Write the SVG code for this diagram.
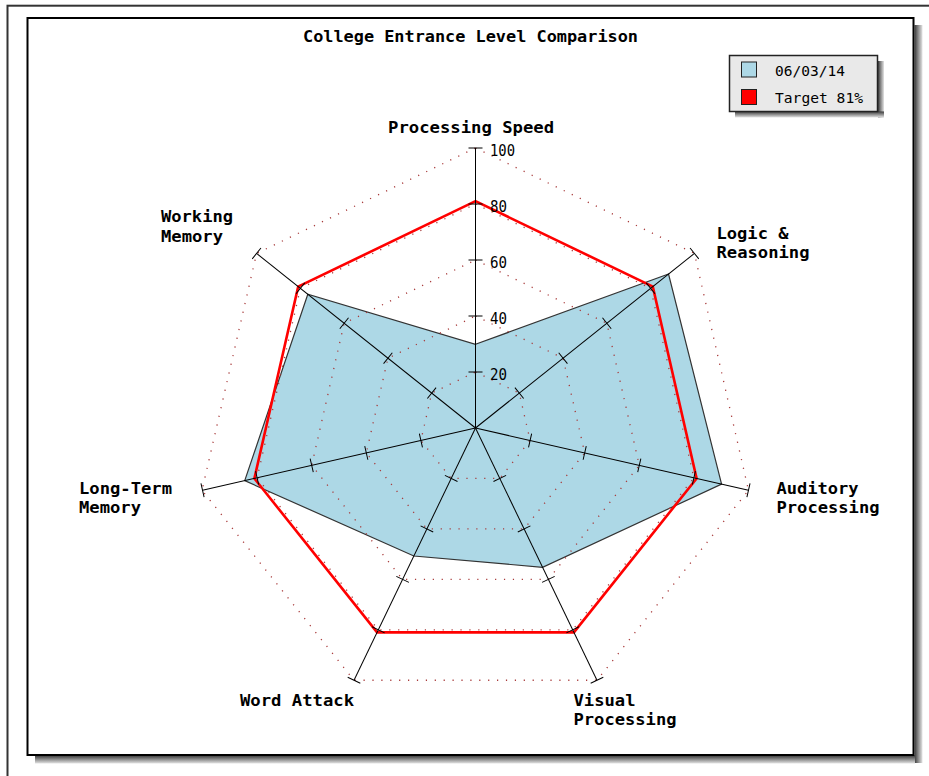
<svg xmlns="http://www.w3.org/2000/svg" xmlns:xlink="http://www.w3.org/1999/xlink" width="929" height="776" viewBox="0 0 929 776">
<defs>
<style>
.lbl{font-family:"DejaVu Sans Mono","Liberation Mono",monospace;font-weight:bold;font-size:16px;fill:#000}
.num{font-family:"DejaVu Sans Mono","Liberation Mono",monospace;font-size:16px;fill:#000}
.leg{font-family:"DejaVu Sans Mono","Liberation Mono",monospace;font-size:14.5px;fill:#000}
.grid{fill:none;stroke:#a83a3a;stroke-width:1.3;stroke-dasharray:1.2 7.7}
.axis line,.axis path{stroke:#000;stroke-width:1;fill:none}
</style>
<linearGradient id="shR" x1="0" y1="0" x2="1" y2="0">
<stop offset="0" stop-color="#3a3a3a"/><stop offset="1" stop-color="#e4e4e4"/>
</linearGradient>
<linearGradient id="shB" x1="0" y1="0" x2="0" y2="1">
<stop offset="0" stop-color="#3a3a3a"/><stop offset="1" stop-color="#e4e4e4"/>
</linearGradient>
<g id="ax" class="axis">
<line x1="0" y1="0" x2="0" y2="-280"/>
<path d="M-7 -56h14M-7 -112h14M-7 -168h14M-7 -224h14M-7 -280h14"/>
</g>
</defs>
<rect x="0" y="0" width="929" height="776" fill="#fff"/>
<g id="outer-frame">
<rect x="7.5" y="5.7" width="1000" height="1000" fill="none" stroke="#333" stroke-width="2"/>
</g>
<g id="panel">
<rect x="914.5" y="25" width="8" height="738" fill="url(#shR)"/>
<rect x="35" y="755.5" width="880" height="8" fill="url(#shB)"/>
<rect x="27.5" y="18" width="886" height="737" fill="#fff" stroke="#000" stroke-width="2"/>
</g>
<g id="title">
<text class="lbl" x="303" y="42" textLength="335" lengthAdjust="spacingAndGlyphs">College Entrance Level Comparison</text>
</g>
<g id="series-0603">
<polygon points="475.5,344.3 668.54,274.06 721.57,484.16 542.58,567.29 413.84,556.03 244.73,480.67 307.8,294.26" fill="#add8e6" stroke="#333" stroke-width="1.2"/>
</g>
<g id="series-target">
<polygon points="475.5,201.2 652.82,286.59 696.61,478.47 573.9,632.34 377.1,632.34 254.39,478.47 298.18,286.59" fill="none" stroke="#ff0000" stroke-width="2.6" stroke-linejoin="miter"/>
</g>
<g id="grid">
<polygon class="grid" points="475.5,372 519.28,393.08 530.1,440.46 499.8,478.45 451.2,478.45 420.9,440.46 431.72,393.08"/>
<polygon class="grid" points="475.5,316 563.07,358.17 584.69,452.92 524.1,528.91 426.9,528.91 366.31,452.92 387.93,358.17"/>
<polygon class="grid" points="475.5,260 606.85,323.25 639.29,465.38 548.39,579.36 402.61,579.36 311.71,465.38 344.15,323.25"/>
<polygon class="grid" points="475.5,204 650.63,288.34 693.88,477.84 572.69,629.82 378.31,629.82 257.12,477.84 300.37,288.34"/>
<polygon class="grid" points="475.5,148 694.41,253.42 748.48,490.31 596.99,680.27 354.01,680.27 202.02,490.31 256.59,253.42"/>
</g>
<g id="axes">
<use xlink:href="#ax" transform="translate(475.5 428)"/>
<use xlink:href="#ax" transform="translate(475.5 428) rotate(51.4286)"/>
<use xlink:href="#ax" transform="translate(475.5 428) rotate(102.8571)"/>
<use xlink:href="#ax" transform="translate(475.5 428) rotate(154.2857)"/>
<use xlink:href="#ax" transform="translate(475.5 428) rotate(205.7143)"/>
<use xlink:href="#ax" transform="translate(475.5 428) rotate(257.1429)"/>
<use xlink:href="#ax" transform="translate(475.5 428) rotate(308.5714)"/>
</g>
<g id="scale-labels">
<text class="num" x="490" y="155.5" textLength="25" lengthAdjust="spacingAndGlyphs">100</text>
<text class="num" x="490" y="211.5" textLength="17" lengthAdjust="spacingAndGlyphs">80</text>
<text class="num" x="490" y="267.5" textLength="17" lengthAdjust="spacingAndGlyphs">60</text>
<text class="num" x="490" y="323.5" textLength="17" lengthAdjust="spacingAndGlyphs">40</text>
<text class="num" x="490" y="379.5" textLength="17" lengthAdjust="spacingAndGlyphs">20</text>
</g>
<g id="label-processing-speed">
<text class="lbl" x="388" y="133.3" textLength="166" lengthAdjust="spacingAndGlyphs">Processing Speed</text>
</g>
<g id="label-logic">
<text class="lbl" x="716.5" y="238.5" textLength="72" lengthAdjust="spacingAndGlyphs">Logic &amp;</text>
<text class="lbl" x="716.5" y="257.5" textLength="93" lengthAdjust="spacingAndGlyphs">Reasoning</text>
</g>
<g id="label-auditory">
<text class="lbl" x="776.5" y="494" textLength="82" lengthAdjust="spacingAndGlyphs">Auditory</text>
<text class="lbl" x="776.5" y="513" textLength="103" lengthAdjust="spacingAndGlyphs">Processing</text>
</g>
<g id="label-visual">
<text class="lbl" x="573.5" y="705.5" textLength="62" lengthAdjust="spacingAndGlyphs">Visual</text>
<text class="lbl" x="573.5" y="724.5" textLength="103" lengthAdjust="spacingAndGlyphs">Processing</text>
</g>
<g id="label-word-attack">
<text class="lbl" x="240" y="705.5" textLength="114" lengthAdjust="spacingAndGlyphs">Word Attack</text>
</g>
<g id="label-long-term">
<text class="lbl" x="79" y="494" textLength="93" lengthAdjust="spacingAndGlyphs">Long-Term</text>
<text class="lbl" x="79" y="513" textLength="62" lengthAdjust="spacingAndGlyphs">Memory</text>
</g>
<g id="label-working">
<text class="lbl" x="161" y="222" textLength="72" lengthAdjust="spacingAndGlyphs">Working</text>
<text class="lbl" x="161" y="241.5" textLength="62" lengthAdjust="spacingAndGlyphs">Memory</text>
</g>
<g id="legend">
<rect x="878" y="61" width="6" height="56.5" fill="url(#shR)"/>
<rect x="735" y="111.5" width="149" height="6" fill="url(#shB)"/>
<rect x="729.5" y="55.5" width="148" height="56" fill="#e9e9e9" stroke="#222" stroke-width="1.5"/>
<rect x="741.5" y="62" width="15" height="15" fill="#add8e6" stroke="#222" stroke-width="1"/>
<rect x="741.5" y="89.5" width="15" height="15" fill="#ff0000" stroke="#222" stroke-width="1"/>
<text class="leg" x="775" y="75.5" textLength="70" lengthAdjust="spacingAndGlyphs">06/03/14</text>
<text class="leg" x="775" y="103" textLength="88" lengthAdjust="spacingAndGlyphs">Target 81%</text>
</g>
</svg>
